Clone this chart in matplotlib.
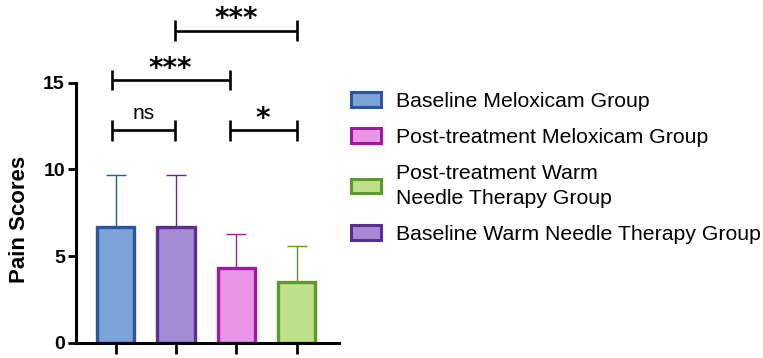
"""
Pain scores by group: bar chart with SD error bars and significance brackets.
"""

import matplotlib
matplotlib.use("Agg")
import matplotlib.pyplot as plt
from matplotlib.patches import Patch

plt.rcParams['font.family'] = ['Liberation Sans', 'DejaVu Sans']

# Bars, left to right
GROUPS = [
    "Baseline Meloxicam Group",
    "Baseline Warm Needle Therapy Group",
    "Post-treatment Meloxicam Group",
    "Post-treatment Warm\nNeedle Therapy Group",
]
MEANS = [6.7, 6.65, 4.3, 3.5]
SD = [2.98, 3.03, 1.97, 2.06]

FILL_COLORS = ["#7BA3D8", "#A58BD4", "#E996E8", "#BEE08A"]
EDGE_COLORS = ["#2D5698", "#5A2E92", "#A01AA0", "#5B9A2B"]

# Legend order differs from bar order
LEGEND_ORDER = [0, 2, 3, 1]

# Significance brackets: (x_left, x_right, y, label)
BRACKETS = [
    (-0.07, 0.99, 12.25, "ns"),
    (1.89, 3.0, 12.25, "*"),
    (-0.07, 1.89, 15.15, "***"),
    (0.99, 3.0, 18.0, "***"),
]


def main():
    fig = plt.figure(figsize=(7.63, 3.58), dpi=100)
    ax = fig.add_axes([0.0996, 0.0427, 0.3451, 0.7263])

    x = list(range(len(MEANS)))

    # upper-only error bars drawn behind the bars
    for xi, m, s, ec in zip(x, MEANS, SD, EDGE_COLORS):
        ax.errorbar(xi, m, yerr=[[0], [s]], color=ec, elinewidth=1.0,
                    capsize=7.5, capthick=1.0, zorder=1)

    ax.bar(x, MEANS, width=0.62, color=FILL_COLORS, edgecolor=EDGE_COLORS,
           linewidth=2.4, zorder=2)

    ax.set_xlim(-0.66, 3.71)
    ax.set_ylim(0, 15)
    ax.set_yticks([0, 5, 10, 15])
    ax.set_xticks(x)
    ax.set_xticklabels([])

    for side in ("top", "right"):
        ax.spines[side].set_visible(False)
    for side in ("left", "bottom"):
        ax.spines[side].set_linewidth(2.2)
    ax.tick_params(axis="y", length=6, width=2.0, labelsize=14, pad=2)
    ax.tick_params(axis="x", length=8, width=2.0)
    for lbl in ax.get_yticklabels():
        lbl.set_fontweight("bold")
    ax.set_ylabel("Pain Scores", fontsize=16, fontweight="bold")
    ax.yaxis.set_label_coords(-0.175, 0.475)

    # significance brackets
    for x0, x1, y, label in BRACKETS:
        ax.plot([x0, x1], [y, y], color="black", lw=1.9, clip_on=False,
                solid_capstyle="butt")
        for xe in (x0, x1):
            ax.plot([xe, xe], [y - 0.6, y + 0.6], color="black", lw=1.9,
                    clip_on=False, solid_capstyle="butt")
        if label == "ns":
            ax.text((x0 + x1) / 2, y + 0.45, label, ha="center", va="bottom",
                    fontsize=15, clip_on=False)
        else:
            ax.text((x0 + x1) / 2, y - 0.15, label, ha="center", va="bottom",
                    fontsize=20, fontweight="bold", family="DejaVu Sans",
                    clip_on=False)

    handles = [Patch(facecolor=FILL_COLORS[i], edgecolor=EDGE_COLORS[i],
                     linewidth=2.2) for i in LEGEND_ORDER]
    labels = [GROUPS[i] for i in LEGEND_ORDER]
    leg = fig.legend(handles, labels, loc="upper left",
                     bbox_to_anchor=(351 / 763, 1 - 92 / 358),
                     frameon=False, fontsize=15.3, handlelength=1.4,
                     handleheight=0.67, handletextpad=0.72,
                     labelspacing=0.8, borderaxespad=0, borderpad=0)
    for t in leg.get_texts():
        t.set_linespacing(1.4)

    fig.savefig("out.png", dpi=100)


if __name__ == "__main__":
    main()
